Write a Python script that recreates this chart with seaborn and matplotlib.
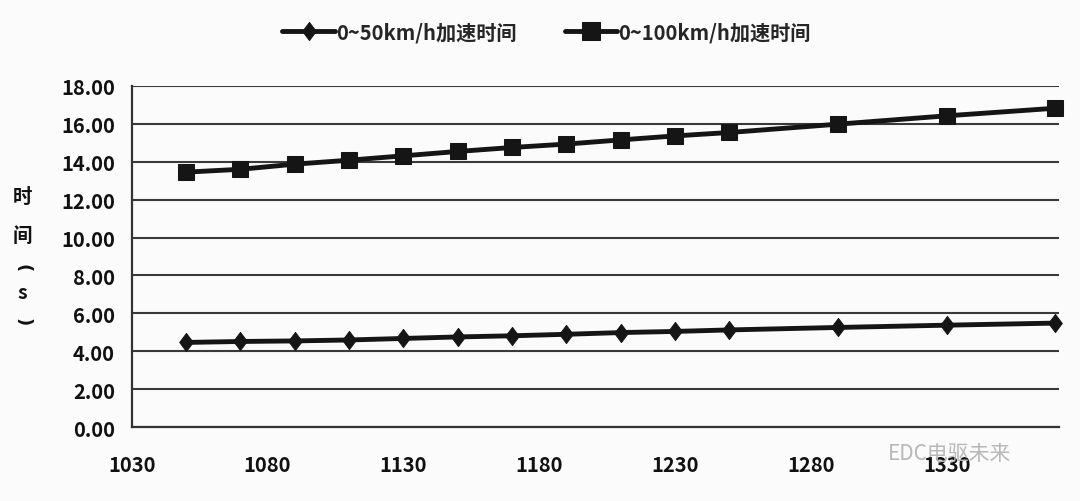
import pandas as pd
import matplotlib.pyplot as plt
import seaborn as sns

# vehicle mass (kg) and acceleration times (s)
mass = [1050, 1070, 1090, 1110, 1130, 1150, 1170, 1190, 1210, 1230, 1250, 1290, 1330, 1370]
t_0_50 = [4.47, 4.52, 4.55, 4.60, 4.68, 4.76, 4.82, 4.90, 4.99, 5.05, 5.13, 5.26, 5.38, 5.49]
t_0_100 = [13.45, 13.60, 13.87, 14.08, 14.31, 14.54, 14.75, 14.93, 15.15, 15.36, 15.54, 15.98, 16.42, 16.82]

LABEL_50 = "0~50km/h加速时间"
LABEL_100 = "0~100km/h加速时间"
y_ticks = [0, 2, 4, 6, 8, 10, 12, 14, 16, 18]
x_ticks = [1030, 1080, 1130, 1180, 1230, 1280, 1330]

df = pd.DataFrame({
    "mass": mass * 2,
    "time": t_0_50 + t_0_100,
    "series": [LABEL_50] * len(mass) + [LABEL_100] * len(mass),
})

sns.set_style("white")
FONTS = ["Noto Sans CJK SC", "DejaVu Sans"]
plt.rcParams["font.family"] = FONTS

# slightly tall diamond like the Excel marker
diamond = [(0, 1), (0.75, 0), (0, -1), (-0.75, 0), (0, 1)]

fig = plt.figure(figsize=(10.8, 5.02), dpi=100, facecolor="#fbfbfb")
ax = fig.add_axes([0.122, 0.147, 0.859, 0.68])
ax.set_facecolor("#fbfbfb")

sns.lineplot(data=df, x="mass", y="time", hue="series", style="series",
             palette=["#151515", "#151515"], markers={LABEL_50: diamond, LABEL_100: "s"},
             dashes=False, linewidth=3.5, markersize=12, markeredgecolor="#151515",
             ax=ax, clip_on=False, zorder=3)
ax.lines[0].set_markersize(13)

ax.set_xlim(1030, 1371.5)
ax.set_ylim(0, 18)
ax.set_yticks(y_ticks)
ax.set_yticklabels([f"{v:.2f}" for v in y_ticks])
ax.set_xticks(x_ticks)
ax.set_xticklabels([str(v) for v in x_ticks])
ax.grid(axis="y", color="#3a3a3a", linewidth=1.5)
ax.grid(axis="x", visible=False)
ax.set_axisbelow(True)

for s in ["top", "right"]:
    ax.spines[s].set_visible(False)
for s in ["left", "bottom"]:
    ax.spines[s].set_color("#333333")
    ax.spines[s].set_linewidth(1.6)
ax.tick_params(axis="both", direction="out", length=6, width=1.5, color="#333333",
               labelsize=14.5, labelcolor="#111111")
ax.tick_params(axis="x", pad=13)
ax.tick_params(axis="y", pad=6)
for lbl in ax.get_xticklabels() + ax.get_yticklabels():
    lbl.set_fontweight("bold")

ax.set_xlabel("")
ax.set_ylabel("")
# vertical y label: 时间(s) with the brackets turned
lab = dict(ha="center", va="center", fontweight="bold", color="#111111")
fig.text(0.021, 0.606, "时", fontsize=14, **lab)
fig.text(0.021, 0.528, "间", fontsize=14, **lab)
fig.text(0.021, 0.466, "(", rotation=-90, fontsize=13, family="DejaVu Sans", **lab)
fig.text(0.021, 0.416, "s", fontsize=14, **lab)
fig.text(0.021, 0.359, ")", rotation=-90, fontsize=13, family="DejaVu Sans", **lab)

handles, labels = ax.get_legend_handles_labels()
leg = ax.legend(handles, labels, loc="upper center", bbox_to_anchor=(0.447, 1.243), ncol=2,
                frameon=False, handlelength=2.6, handletextpad=0.05, columnspacing=2.4,
                prop={"weight": "bold", "size": 14.5})
for h in leg.legend_handles:
    h.set_markersize(13)

# watermark
fig.text(0.822, 0.095, "EDC电驱未来", fontsize=15, color="#b8b8b8", ha="left", va="center")

fig.savefig("out.png", dpi=100, facecolor=fig.get_facecolor())
